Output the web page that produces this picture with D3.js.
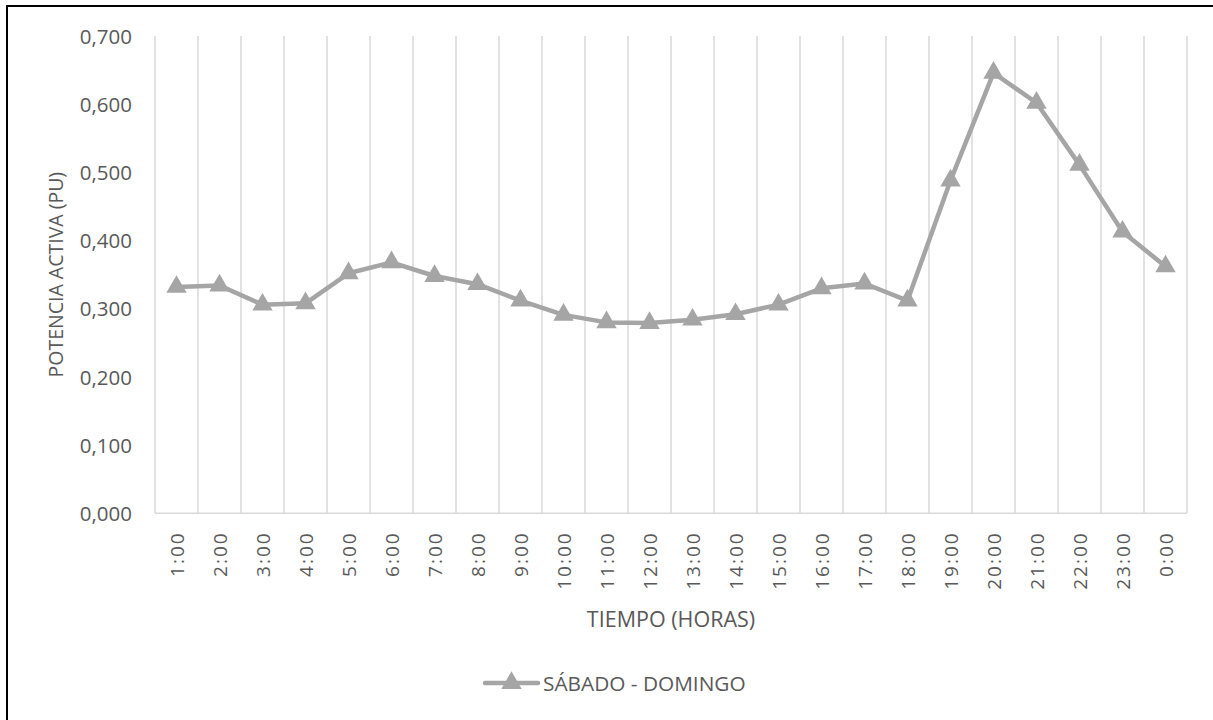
<!DOCTYPE html>
<html>
<head>
<meta charset="utf-8">
<script src="https://cdn.jsdelivr.net/npm/d3@7"></script>
<style>
  html, body { margin: 0; padding: 0; background: #fff; }
  svg { display: block; }
  svg text { font-family: "Open Sans", "Noto Sans", sans-serif; }
</style>
</head>
<body>
<svg id="chart" width="1213" height="720"></svg>
<script>
// Hourly active power profile, weekend (per unit)
const hours = ["1:00","2:00","3:00","4:00","5:00","6:00","7:00","8:00","9:00","10:00","11:00","12:00",
               "13:00","14:00","15:00","16:00","17:00","18:00","19:00","20:00","21:00","22:00","23:00","0:00"];
const potencia = [0.332,0.334,0.306,0.308,0.352,0.368,0.348,0.336,0.312,0.291,0.280,0.279,
                  0.284,0.292,0.306,0.330,0.337,0.312,0.488,0.646,0.602,0.511,0.413,0.362];
const yTicks = [0, 0.1, 0.2, 0.3, 0.4, 0.5, 0.6, 0.7];
const seriesName = "SÁBADO - DOMINGO";
const xTitle = "TIEMPO (HORAS)";
const yTitle = "POTENCIA ACTIVA (PU)";

const svg = d3.select("#chart");
const W = 1213, H = 720;
const plot = { left: 155, right: 1187, top: 36, bottom: 513.3 };
const textColor = "#595959";
const gridColor = "#d9d9d9";
const lineColor = "#a5a5a5";
const fontFamily = "'Open Sans', 'Noto Sans', sans-serif";

svg.append("rect").attr("width", W).attr("height", H).attr("fill", "#fff");

// chart frame
svg.append("rect")
  .attr("x", 7).attr("y", 6)
  .attr("width", W + 10).attr("height", H + 10)
  .attr("fill", "none").attr("stroke", "#000").attr("stroke-width", 2);

const x = d3.scaleBand().domain(hours).range([plot.left, plot.right]);
const y = d3.scaleLinear().domain([0, 0.7]).range([plot.bottom, plot.top]);

// vertical gridlines at category boundaries
const bounds = hours.map(h => x(h)).concat([plot.right]);
svg.append("g").selectAll("line").data(bounds).join("line")
  .attr("x1", d => d).attr("x2", d => d)
  .attr("y1", plot.top).attr("y2", plot.bottom)
  .attr("stroke", gridColor).attr("stroke-width", 1.5);

// category axis line
svg.append("line")
  .attr("x1", plot.left).attr("x2", plot.right)
  .attr("y1", plot.bottom).attr("y2", plot.bottom)
  .attr("stroke", gridColor).attr("stroke-width", 1.5);

// value axis labels
const fmt = v => d3.format(".3f")(v).replace(".", ",");
const yAxis = d3.axisLeft(y).tickValues(yTicks).tickFormat(fmt).tickSize(0).tickPadding(0);
const gy = svg.append("g").attr("transform", `translate(132,0)`).call(yAxis)
  .attr("font-family", fontFamily);
gy.select(".domain").remove();
gy.selectAll("text")
  .attr("fill", textColor).style("font-size", "20.5px")
  .attr("dy", "0.35em").attr("x", 0);

// category axis labels, rotated
const xAxis = d3.axisBottom(x).tickSize(0).tickPadding(0);
const gx = svg.append("g").attr("transform", `translate(0,${plot.bottom})`).call(xAxis)
  .attr("font-family", fontFamily);
gx.select(".domain").remove();
gx.selectAll("text")
  .attr("fill", textColor).style("font-size", "19px")
  .style("letter-spacing", "2px")
  .attr("text-anchor", "end")
  .attr("dy", "0")
  .attr("dominant-baseline", "central")
  .attr("transform", "translate(0,18) rotate(-90)")
  .attr("x", 0).attr("y", 0);

// axis titles
svg.append("text")
  .attr("x", (plot.left + plot.right) / 2).attr("y", 618)
  .attr("text-anchor", "middle").attr("dominant-baseline", "central")
  .attr("fill", textColor).style("font-size", "21.5px")
  .text(xTitle);

svg.append("text")
  .attr("transform", `translate(55,${(plot.top + plot.bottom) / 2}) rotate(-90)`)
  .attr("text-anchor", "middle").attr("dominant-baseline", "central")
  .attr("fill", textColor).style("font-size", "19.5px")
  .text(yTitle);

// series line
const cx = h => x(h) + x.bandwidth() / 2;
const line = d3.line().x((d, i) => cx(hours[i])).y(d => y(d));
svg.append("path").datum(potencia)
  .attr("d", line).attr("fill", "none")
  .attr("stroke", lineColor).attr("stroke-width", 4.5)
  .attr("stroke-linejoin", "round");

const tri = d3.symbol().type(d3.symbolTriangle).size(180);
svg.append("g").selectAll("path").data(potencia).join("path")
  .attr("d", tri)
  .attr("transform", (d, i) => `translate(${cx(hours[i])},${y(d)})`)
  .attr("fill", lineColor);

// legend
const lg = svg.append("g").attr("transform", "translate(0,683)");
lg.append("line").attr("x1", 485).attr("x2", 538).attr("y1", 0).attr("y2", 0)
  .attr("stroke", lineColor).attr("stroke-width", 4.5).attr("stroke-linecap", "round");
lg.append("path").attr("d", tri).attr("transform", "translate(511.5,0)").attr("fill", lineColor);
lg.append("text").attr("x", 543).attr("y", 0)
  .attr("dominant-baseline", "central").attr("fill", textColor)
  .style("font-size", "20.8px").text(seriesName);
</script>
</body>
</html>
